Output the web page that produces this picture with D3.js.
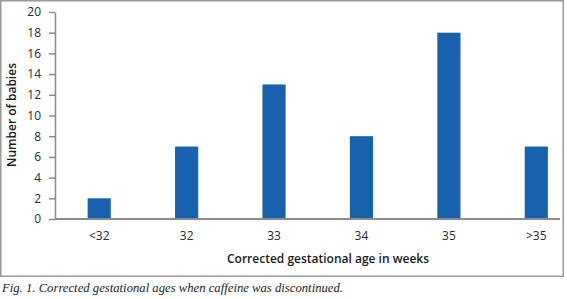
<!DOCTYPE html>
<html>
<head>
<meta charset="utf-8">
<script src="https://cdn.jsdelivr.net/npm/d3@7"></script>
<style>
  body { margin: 0; background: #fff; }
  svg text { font-family: "Open Sans", sans-serif; }
</style>
</head>
<body>
<svg id="chart" width="567" height="299"></svg>
<script>
// data
const categories = ["<32", "32", "33", "34", "35", ">35"];
const babies = [2, 7, 13, 8, 18, 7];
const yTicks = [0, 2, 4, 6, 8, 10, 12, 14, 16, 18, 20];

const svg = d3.select("#chart");

// frame round the chart
svg.append("rect")
  .attr("x", 0.75).attr("y", 0.75)
  .attr("width", 562.5).attr("height", 275.5)
  .attr("fill", "none")
  .attr("stroke", "#9a9a9a")
  .attr("stroke-width", 1.5);

const x = d3.scaleBand()
  .domain(categories)
  .range([55.5, 580])
  .paddingInner(0.735)
  .paddingOuter(0.3675);

const y = d3.scaleLinear()
  .domain([0, 20])
  .range([219, 12]);

const g = svg.append("g");

// bars
g.selectAll(".bar")
  .data(babies)
  .enter().append("rect")
  .attr("class", "bar")
  .attr("x", (d, i) => x(categories[i]))
  .attr("width", x.bandwidth())
  .attr("y", d => y(d))
  .attr("height", d => y(0) - y(d))
  .attr("fill", "#1761ae");

// y axis
const yAxis = g.append("g")
  .attr("transform", "translate(55,0)")
  .call(d3.axisLeft(y).tickValues(yTicks).tickSize(6).tickPadding(8).tickSizeOuter(0));
yAxis.select(".domain").attr("stroke", "#8c8c8c").attr("stroke-width", 1.5);
yAxis.selectAll(".tick line").attr("stroke", "#8c8c8c").attr("stroke-width", 1.5);
yAxis.selectAll("text").attr("font-size", 12).attr("fill", "#2a2a2a");

// x axis
const xAxis = g.append("g")
  .attr("transform", "translate(0,219)")
  .call(d3.axisBottom(x).tickSize(0).tickPadding(12));
xAxis.select(".domain").remove();
xAxis.append("line")
  .attr("x1", 55).attr("x2", 560)
  .attr("stroke", "#8c8c8c").attr("stroke-width", 2);
xAxis.selectAll("text").attr("font-size", 12).attr("fill", "#2a2a2a");

// axis titles
svg.append("text")
  .attr("x", 328).attr("y", 263)
  .attr("text-anchor", "middle")
  .attr("font-size", 12)
  .attr("font-weight", 600)
  .attr("fill", "#1a1a1a")
  .text("Corrected gestational age in weeks");

svg.append("text")
  .attr("transform", "translate(16,115) rotate(-90)")
  .attr("text-anchor", "middle")
  .attr("font-size", 12)
  .attr("font-weight", 600)
  .attr("fill", "#1a1a1a")
  .text("Number of babies");

// caption
svg.append("text")
  .attr("x", 2).attr("y", 292)
  .style("font-family", "'Liberation Serif', serif")
  .attr("font-style", "italic")
  .attr("font-size", 12.7)
  .attr("fill", "#222")
  .text("Fig. 1. Corrected gestational ages when caffeine was discontinued.");
</script>
</body>
</html>
